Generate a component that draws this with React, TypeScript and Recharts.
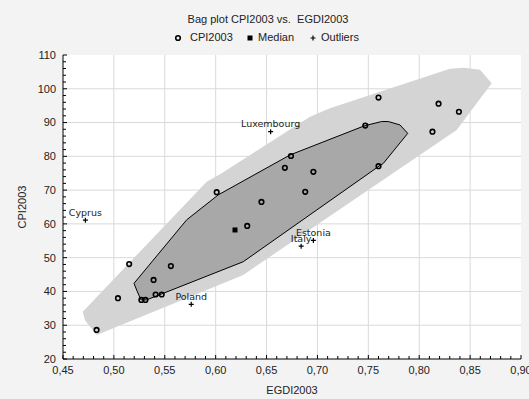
import React from 'react';
import { ScatterChart, Scatter, XAxis, YAxis, CartesianGrid } from 'recharts';

// EGDI2003 / CPI2003 country points
const cpiEgdi = [0.483, 0.504, 0.515, 0.527, 0.531, 0.539, 0.541, 0.547, 0.556, 0.601, 0.631, 0.645, 0.668, 0.674, 0.688, 0.696, 0.747, 0.76, 0.76, 0.813, 0.819, 0.839];
const cpiValues = [28.6, 38.0, 48.1, 37.5, 37.5, 43.4, 39.1, 39.1, 47.5, 69.4, 59.4, 66.5, 76.6, 80.1, 69.5, 75.4, 89.1, 97.4, 77.1, 87.3, 95.6, 93.2];

const medianEgdi = [0.619];
const medianCpi = [58.2];

const outlierNames = ['Cyprus', 'Luxembourg', 'Poland', 'Estonia', 'Italy'];
const outlierEgdi = [0.472, 0.654, 0.576, 0.696, 0.684];
const outlierCpi = [61.1, 87.3, 36.2, 55.1, 53.4];

// bag (inner hull) and fence (outer hull) vertices
const bagEgdi = [0.5198, 0.5224, 0.5266, 0.5322, 0.6271, 0.7605, 0.7647, 0.7887, 0.7811, 0.7696, 0.7631, 0.7467, 0.673, 0.6026, 0.5715];
const bagCpi = [42.4, 40.4, 37.5, 37.5, 48.8, 77.1, 77.9, 86.8, 89.3, 90.3, 90.3, 89.1, 80.4, 68.6, 61.2];
const fenceEgdi = [0.4694, 0.4716, 0.4831, 0.6271, 0.8368, 0.8712, 0.8597, 0.8433, 0.8302, 0.7123, 0.6927, 0.6059, 0.5912];
const fenceCpi = [34.0, 31.5, 27.1, 44.9, 87.8, 101.6, 105.6, 106.2, 105.9, 94.2, 91.7, 75.0, 72.5];

const xGrid = [0.5, 0.55, 0.6, 0.65, 0.7, 0.75, 0.8, 0.85];
const yGrid = [30, 40, 50, 60, 70, 80, 90, 100];
const xTicks = Array.from({ length: 46 }, (_, i) => Math.round((0.45 + i * 0.01) * 100) / 100);
const yTicks = Array.from({ length: 46 }, (_, i) => 20 + i * 2);

const FONT = 'Arial, "Liberation Sans", sans-serif';
const LABEL_FONT = '"DejaVu Sans", Verdana, sans-serif';

const zip = (xs: number[], ys: number[]) => xs.map((x, i) => ({ x, y: ys[i] }));
const cpiData = zip(cpiEgdi, cpiValues);
const medianData = zip(medianEgdi, medianCpi);
const outlierData = outlierNames.map((name, i) => ({ name, x: outlierEgdi[i], y: outlierCpi[i] }));
const bagData = zip(bagEgdi, bagCpi);
const fenceData = zip(fenceEgdi, fenceCpi);

const isMajorX = (v: number) => Math.round(v * 100) % 5 === 0;

function BottomTick({ x, y, payload }: any) {
  const v = payload.value;
  const major = isMajorX(v);
  const axisY = y - 8;
  return (
    <g>
      <line x1={x} x2={x} y1={axisY} y2={axisY - (major ? 4 : 3)} stroke="#000" />
      {major && (
        <text x={x} y={axisY + 15} textAnchor="middle" fontSize={11} fill="#222" fontFamily={FONT}>
          {v.toFixed(2).replace('.', ',')}
        </text>
      )}
    </g>
  );
}

function TopTick({ x, y, payload }: any) {
  const major = isMajorX(payload.value);
  return <line x1={x} x2={x} y1={y} y2={y + (major ? 4 : 3)} stroke="#000" />;
}

function LeftTick({ x, y, payload }: any) {
  const v = payload.value;
  const major = v % 10 === 0;
  const axisX = x + 8;
  return (
    <g>
      <line x1={axisX} x2={axisX + (major ? 4 : 3)} y1={y} y2={y} stroke="#000" />
      {major && (
        <text x={axisX - 7} y={y} dy="0.35em" textAnchor="end" fontSize={11} fill="#222" fontFamily={FONT}>
          {v}
        </text>
      )}
    </g>
  );
}

function RightTick({ x, y, payload }: any) {
  const major = payload.value % 10 === 0;
  return <line x1={x} x2={x - (major ? 4 : 3)} y1={y} y2={y} stroke="#000" />;
}

const polyPath = (pts: any[]) => 'M' + pts.map((p) => `${p.x},${p.y}`).join('L') + 'Z';

const Empty = () => <g />;

function CircleDot({ cx, cy }: any) {
  return <circle cx={cx} cy={cy} r={2.3} fill="none" stroke="#000" strokeWidth={1.6} />;
}

function MedianDot({ cx, cy }: any) {
  return <rect x={cx - 2.5} y={cy - 2.5} width={5} height={5} fill="#000" />;
}

function OutlierDot({ cx, cy, payload }: any) {
  return (
    <g>
      <path d={`M${cx - 2.5},${cy}H${cx + 2.5}M${cx},${cy - 2.5}V${cy + 2.5}`} stroke="#000" strokeWidth={1.2} />
      <text x={cx} y={cy - 4.5} textAnchor="middle" fontSize={9.5} fill="#222" fontFamily={LABEL_FONT}>
        {payload.name}
      </text>
    </g>
  );
}

export default function App() {
  return (
    <div style={{ position: 'absolute', left: 0, top: 0, width: 529, height: 399, background: '#f3f3f3', fontFamily: FONT, color: '#222' }}>
      <div style={{ position: 'absolute', left: 268, top: 13, transform: 'translateX(-50%)', fontSize: 11, lineHeight: '13px', whiteSpace: 'pre' }}>
        Bag plot CPI2003 vs.  EGDI2003
      </div>
      <svg style={{ position: 'absolute', left: 0, top: 0 }} width={529} height={50}>
        <circle cx={178} cy={38} r={2.3} fill="none" stroke="#000" strokeWidth={1.6} />
        <rect x={247.5} y={35.5} width={5} height={5} fill="#000" />
        <path d="M310.5,38H315.5M313,35.5V40.5" stroke="#000" strokeWidth={1.2} />
      </svg>
      <div style={{ position: 'absolute', left: 190, top: 31, fontSize: 11, lineHeight: '13px' }}>CPI2003</div>
      <div style={{ position: 'absolute', left: 258, top: 31, fontSize: 11, lineHeight: '13px' }}>Median</div>
      <div style={{ position: 'absolute', left: 321, top: 31, fontSize: 11, lineHeight: '13px' }}>Outliers</div>

      <div style={{ position: 'absolute', left: 0, top: 0 }}>
        <ScatterChart width={529} height={399} margin={{ top: 55, right: 8, bottom: 0, left: 0 }}>
          <CartesianGrid
            fill="#ffffff"
            stroke="#d9d9d9"
            verticalValues={xGrid}
            horizontalValues={yGrid}
          />
          <XAxis
            type="number"
            dataKey="x"
            domain={[0.45, 0.9]}
            ticks={xTicks}
            interval={0}
            allowDataOverflow
            height={40}
            tickSize={0}
            tickMargin={8}
            tickLine={false}
            axisLine={{ stroke: '#000' }}
            tick={(p: any) => <BottomTick {...p} />}
            label={{
              content: ({ viewBox }: any) => (
                <text x={viewBox.x + viewBox.width / 2} y={viewBox.y + viewBox.height - 5} textAnchor="middle" fontSize={11} fill="#222" fontFamily={FONT}>
                  EGDI2003
                </text>
              ),
            }}
          />
          <XAxis
            xAxisId="top"
            orientation="top"
            type="number"
            domain={[0.45, 0.9]}
            ticks={xTicks}
            interval={0}
            allowDataOverflow
            height={0}
            tickSize={0}
            tickMargin={0}
            tickLine={false}
            axisLine={{ stroke: '#000' }}
            tick={(p: any) => <TopTick {...p} />}
          />
          <YAxis
            type="number"
            dataKey="y"
            domain={[20, 110]}
            ticks={yTicks}
            interval={0}
            allowDataOverflow
            width={63}
            tickSize={0}
            tickMargin={8}
            tickLine={false}
            axisLine={{ stroke: '#000' }}
            tick={(p: any) => <LeftTick {...p} />}
            label={{
              content: ({ viewBox }: any) => {
                const lx = viewBox.x + 22;
                const ly = viewBox.y + viewBox.height / 2;
                return (
                  <text x={lx} y={ly} dy="0.35em" transform={`rotate(-90, ${lx}, ${ly})`} textAnchor="middle" fontSize={11} fill="#222" fontFamily={FONT}>
                    CPI2003
                  </text>
                );
              },
            }}
          />
          <YAxis
            yAxisId="right"
            orientation="right"
            type="number"
            domain={[20, 110]}
            ticks={yTicks}
            interval={0}
            allowDataOverflow
            width={0}
            tickSize={0}
            tickMargin={0}
            tickLine={false}
            axisLine={{ stroke: '#000' }}
            tick={(p: any) => <RightTick {...p} />}
          />
          <Scatter
            data={fenceData}
            isAnimationActive={false}
            shape={Empty}
            line={(p: any) => <path d={polyPath(p.points)} fill="#d4d4d4" stroke="none" />}
          />
          <Scatter
            data={bagData}
            isAnimationActive={false}
            shape={Empty}
            line={(p: any) => <path d={polyPath(p.points)} fill="#a8a8a8" stroke="#000" strokeWidth={1} />}
          />
          <Scatter data={cpiData} isAnimationActive={false} shape={(p: any) => <CircleDot {...p} />} />
          <Scatter data={medianData} isAnimationActive={false} shape={(p: any) => <MedianDot {...p} />} />
          <Scatter data={outlierData} isAnimationActive={false} shape={(p: any) => <OutlierDot {...p} />} />
        </ScatterChart>
      </div>
    </div>
  );
}
